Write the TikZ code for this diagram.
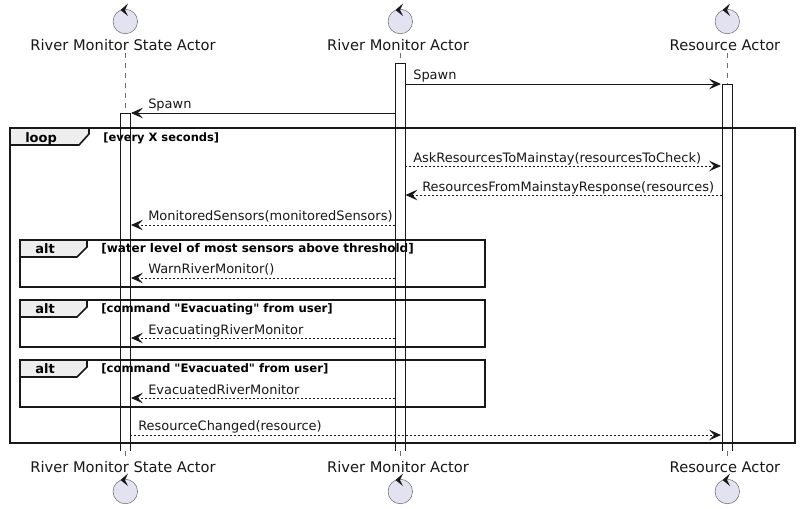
\documentclass[tikz,border=0pt]{standalone}
\usepackage{fontspec}
\setmainfont{DejaVu Sans}
\newfontfamily\straightbold{DejaVu Sans Bold}[Ligatures=ResetAll]
\usetikzlibrary{arrows.meta}
\definecolor{actorfill}{HTML}{E2E2F0}
\definecolor{actorline}{HTML}{6E6E78}
\definecolor{tabfill}{HTML}{EEEEEE}
\definecolor{inkc}{HTML}{181818}
\tikzset{
  x=0.75pt,y=-0.75pt,
  actorname/.style={font=\fontsize{11pt}{13pt}\selectfont,text=inkc,inner sep=0pt,anchor=center},
  msglabel/.style={font=\fontsize{9.72pt}{12pt}\selectfont,text=inkc,inner sep=0pt,anchor=base west},
  guard/.style={font=\bfseries\fontsize{8.75pt}{10pt}\selectfont,text=black,inner sep=0pt,anchor=base west},
  tablabel/.style={font=\bfseries\fontsize{9.75pt}{12pt}\selectfont,text=black,inner sep=0pt,anchor=base west},
  lifeline/.style={draw=actorline,line width=0.75pt,dash pattern=on 3.75pt off 3.75pt},
  activebar/.style={draw=inkc,line width=0.75pt},
  framebox/.style={draw=inkc,line width=1.2pt},
  tabshape/.style={draw=inkc,fill=tabfill,line width=1.2pt},
  solidmsg/.style={draw=inkc,line width=0.75pt,-{Stealth[length=9pt,width=8pt,inset=3.75pt]}},
  dashmsg/.style={solidmsg,dash pattern=on 1.5pt off 1.5pt},
  actorcircle/.style={circle,draw=actorline,fill=actorfill,line width=0.4pt,minimum size=18.4pt,inner sep=0pt},
}
\newcommand{\controlglyph}[2]{%
  \fill[inkc] (#1+3,#2-17.5) -- (#1-4.5,#2-11) -- (#1+3,#2-5) -- (#1,#2-11) -- cycle;
}
\begin{document}
\begin{tikzpicture}
\useasboundingbox (0,0) rectangle (800,508);
\fill[white] (0,0) rectangle (800,508);

% activation bars
\fill[white] (120,113) rectangle (130,451);
\fill[white] (395,63) rectangle (405,451);
\fill[white] (722,84) rectangle (732,451);

% lifeline ends
\coordinate (ltA) at (125,53); \coordinate (lbA) at (125,113);
\coordinate (ltB) at (400,53); \coordinate (lbB) at (400,63);
\coordinate (ltC) at (727,53); \coordinate (lbC) at (727,84);
\coordinate (leA) at (125,451); \coordinate (lfA) at (125,458);
\coordinate (leB) at (400,451); \coordinate (lfB) at (400,458);
\coordinate (leC) at (727,451); \coordinate (lfC) at (727,458);
\draw[lifeline] (ltA) -- (lbA);
\draw[lifeline] (ltB) -- (lbB);
\draw[lifeline] (ltC) -- (lbC);
\draw[lifeline] (leA) -- (lfA);
\draw[lifeline] (leB) -- (lfB);
\draw[lifeline] (leC) -- (lfC);

% frames
\draw[framebox] (10,128) rectangle (795,443);
\draw[tabshape] (10,128) -- (89,128) -- (89,134) -- (79,145) -- (10,145) -- cycle;
\node[tablabel] (loopname) at (25,142) {loop};
\node[guard,font=\bfseries\fontsize{8.6pt}{10pt}\selectfont] (loopguard) at (103,141) {[every X seconds]};

\draw[framebox] (20,240) rectangle (485,287);
\draw[tabshape] (20,240) -- (87,240) -- (87,247) -- (77,257) -- (20,257) -- cycle;
\node[tablabel] (alta) at (35,253) {alt};
\node[guard,font=\bfseries\fontsize{9pt}{10pt}\selectfont] (guarda) at (101,252) {[water level of most sensors above threshold]};

\draw[framebox] (20,300) rectangle (485,347);
\draw[tabshape] (20,300) -- (87,300) -- (87,307) -- (77,317) -- (20,317) -- cycle;
\node[tablabel] (altb) at (35,313) {alt};
\node[guard] (guardb) at (101,312) {\straightbold [command "Evacuating" from user]};

\draw[framebox] (20,360) rectangle (485,407);
\draw[tabshape] (20,360) -- (87,360) -- (87,367) -- (77,377) -- (20,377) -- cycle;
\node[tablabel] (altc) at (35,373) {alt};
\node[guard] (guardc) at (101,372) {\straightbold [command "Evacuated" from user]};

% activation bar outlines
\draw[activebar] (120,451) -- (120,113) -- (130,113) -- (130,451);
\draw[activebar] (395,451) -- (395,63) -- (405,63) -- (405,451);
\draw[activebar] (722,451) -- (722,84) -- (732,84) -- (732,451);

% actors
\node[actorcircle] (actA) at (125.3,21.5) {};
\node[actorcircle] (actB) at (400.3,21.5) {};
\node[actorcircle] (actC) at (727.3,21.5) {};
\controlglyph{125}{21}
\controlglyph{400}{21}
\controlglyph{727}{21}
\node[actorname] (nameA) at (123,45) {River Monitor State Actor};
\node[actorname] (nameB) at (398,45) {River Monitor Actor};
\node[actorname] (nameC) at (725,45) {Resource Actor};
\node[actorname] (nameAb) at (123,467) {River Monitor State Actor};
\node[actorname] (nameBb) at (398,467) {River Monitor Actor};
\node[actorname] (nameCb) at (725,467) {Resource Actor};
\node[actorcircle] (actAb) at (125.3,491.5) {};
\node[actorcircle] (actBb) at (400.3,491.5) {};
\node[actorcircle] (actCb) at (727.3,491.5) {};
\controlglyph{125}{491}
\controlglyph{400}{491}
\controlglyph{727}{491}

% message ends
\coordinate (m1s) at (405,84);  \coordinate (m1e) at (721,84);
\coordinate (m2s) at (395,113); \coordinate (m2e) at (131,113);
\coordinate (m3s) at (405,166); \coordinate (m3e) at (721,166);
\coordinate (m4s) at (722,195); \coordinate (m4e) at (405.5,195);
\coordinate (m5s) at (395,225); \coordinate (m5e) at (131,225);
\coordinate (m6s) at (395,278); \coordinate (m6e) at (131,278);
\coordinate (m7s) at (395,338); \coordinate (m7e) at (131,338);
\coordinate (m8s) at (395,398); \coordinate (m8e) at (131,398);
\coordinate (m9s) at (130,435); \coordinate (m9e) at (721,435);

\draw[solidmsg] (m1s) -- (m1e);
\draw[solidmsg] (m2s) -- (m2e);
\draw[dashmsg] (m3s) -- (m3e);
\draw[dashmsg] (m4s) -- (m4e);
\draw[dashmsg] (m5s) -- (m5e);
\draw[dashmsg] (m6s) -- (m6e);
\draw[dashmsg] (m7s) -- (m7e);
\draw[dashmsg] (m8s) -- (m8e);
\draw[dashmsg] (m9s) -- (m9e);

\node[msglabel] (t1) at (413,79) {Spawn};
\node[msglabel] (t2) at (148,108) {Spawn};
\node[msglabel] (t3) at (413,162) {AskResourcesToMainstay(resourcesToCheck)};
\node[msglabel] (t4) at (422,191) {ResourcesFromMainstayResponse(resources)};
\node[msglabel] (t5) at (148,220) {MonitoredSensors(monitoredSensors)};
\node[msglabel] (t6) at (148,273) {WarnRiverMonitor()};
\node[msglabel] (t7) at (148,334) {EvacuatingRiverMonitor};
\node[msglabel] (t8) at (148,394) {EvacuatedRiverMonitor};
\node[msglabel] (t9) at (138,430) {ResourceChanged(resource)};
\end{tikzpicture}
\end{document}
